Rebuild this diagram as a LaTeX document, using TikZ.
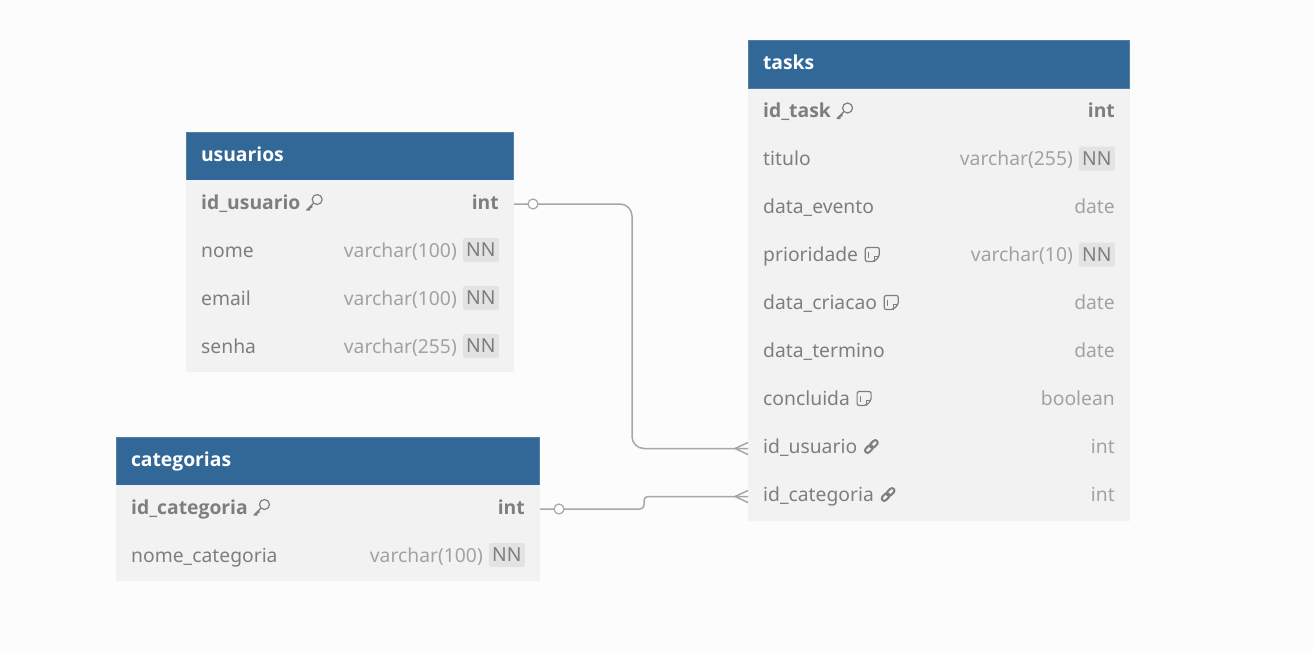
\documentclass[tikz,border=0pt]{standalone}
\usepackage{fontspec}
\setmainfont{Noto Sans}
\newfontfamily\boldfam{Open Sans}
\usepackage{tikz}
\usetikzlibrary{calc, positioning}

\definecolor{pagebg}{HTML}{FCFCFC}
\definecolor{headblue}{HTML}{316897}
\definecolor{rowgray}{HTML}{F2F2F2}
\definecolor{flaggray}{HTML}{E3E3E3}
\definecolor{namegray}{HTML}{7E7E7E}
\definecolor{typegray}{HTML}{A2A2A2}
\definecolor{linegray}{HTML}{A6A6AC}

\tikzset{
    tablehead/.style={anchor=north west, fill=headblue, draw=headblue!85!white, line width=0.6pt,
        text=white, font=\fontsize{19.3}{22}\selectfont\boldfam\bfseries, minimum height=48pt,
        text height=16pt, text depth=6pt,
        inner xsep=15pt, inner ysep=0pt, outer sep=0pt, align=left},
    tablerow/.style={anchor=north west, fill=rowgray, minimum height=48pt, inner sep=0pt, outer sep=0pt},
    rowname/.style={anchor=base west, text=namegray, inner sep=0pt, font=\fontsize{19.3}{22}\selectfont},
    rowtype/.style={anchor=base east, text=typegray, inner sep=0pt, font=\fontsize{19.3}{22}\selectfont},
    rowflag/.style={fill=flaggray, text=namegray, rounded corners=1.5pt, minimum width=36pt, minimum height=24pt,
        inner sep=0pt, anchor=east, font=\fontsize{19.3}{22}\selectfont},
    name pkey/.style={font=\fontsize{19.3}{22}\selectfont\boldfam\bfseries},
    type pkey/.style={font=\fontsize{19.3}{22}\selectfont\boldfam\bfseries, text=namegray},
    name note/.style={}, type note/.style={},
    name fkey/.style={}, type fkey/.style={},
    name plain/.style={}, type plain/.style={},
    icon/.style={draw=namegray, line width=1.2pt, line join=round},
    relline/.style={draw=linegray, line width=1.5pt},
    reldot/.style={circle, draw=linegray, fill=pagebg, line width=1.2pt, minimum size=10pt, inner sep=0pt},
    icon plain/.pic={},
    icon pkey/.pic={
        \draw[icon] (2.5,-2.5) circle (5);
        \draw[icon] (-1,1) -- (-8,8) -- (-5,8) -- (-5,5.5) -- (-3,5.5) -- (-3,3.5);
    },
    icon note/.pic={
        \draw[icon, rounded corners=2pt] (-7,-7) -- (7,-7) -- (7,2) -- (2,7) -- (-7,7) -- cycle;
        \draw[icon] (7,2) -- (2,2) -- (2,7);
        \draw[icon] (-4,-3) -- (-4,3);
    },
    icon fkey/.pic={
        \draw[icon, line width=2pt, rotate=45, rounded corners=2.5pt] (-8,-2.5) rectangle (1,2.5);
        \draw[icon, line width=2pt, rotate=45, rounded corners=2.5pt] (-1,-2.5) rectangle (8,2.5);
    },
    crowfoot/.pic={
        \draw[relline] (-13,0) -- (0,-6) (-13,0) -- (0,6);
    },
}

\def\flagnn{NN}
% name, left, top, width, rows as name/type/flag/kind
\newcommand{\erdtable}[5]{
    \node[tablehead, text width={(#4-30.6)*1pt}] (#1) at (#2,#3) {#1};
    \foreach \n/\t/\f/\k [count=\i] in {#5} {
        \node[tablerow, minimum width=#4 pt] (#1-\i) at (#2,{#3+48*\i}) {};
        \node[rowname, name \k] (#1-\i-name) at ($(#1-\i.west)+(15,5)$) {\n};
        \pic[shift={(14,-7)}] at (#1-\i-name.base east) {icon \k};
        \edef\flagval{\f}
        \ifx\flagval\flagnn
            \node[rowflag] (#1-\i-flag) at ($(#1-\i.east)+(-15,-2)$) {NN};
            \node[rowtype, type \k] (#1-\i-type) at ($(#1-\i.east)+(-57,5)$) {\t};
        \else
            \node[rowtype, type \k] (#1-\i-type) at ($(#1-\i.east)+(-15,5)$) {\t};
        \fi
    }
}

\begin{document}
\begin{tikzpicture}[x=1pt, y=-1pt]
    \fill[pagebg] (0,0) rectangle (1313,651);
    \useasboundingbox (0,0) rectangle (1313,651);

    \erdtable{usuarios}{186}{132}{328}{
        id\_usuario/int/-/pkey,
        nome/varchar(100)/NN/plain,
        email/varchar(100)/NN/plain,
        senha/varchar(255)/NN/plain}
    \erdtable{categorias}{116}{437}{424}{
        id\_categoria/int/-/pkey,
        nome\_categoria/varchar(100)/NN/plain}
    \erdtable{tasks}{748}{40.5}{382}{
        id\_task/int/-/pkey,
        titulo/varchar(255)/NN/plain,
        data\_evento/date/-/plain,
        prioridade/varchar(10)/NN/note,
        data\_criacao/date/-/note,
        data\_termino/date/-/plain,
        concluida/boolean/-/note,
        id\_usuario/int/-/fkey,
        id\_categoria/int/-/fkey}

    \coordinate (bendUser) at (632,204);
    \coordinate (bendCatA) at (644,509);
    \coordinate (bendCatB) at (644,496.5);

    \draw[relline, rounded corners=12pt] (usuarios-1.east) -- (bendUser) |- (tasks-8.west);
    \draw[relline, rounded corners=4pt] (categorias-1.east) -- (bendCatA) -- (bendCatB) -- (tasks-9.west);
    \node[reldot] (dotUser) at ($(usuarios-1.east)+(19,0)$) {};
    \node[reldot] (dotCat) at ($(categorias-1.east)+(19,0)$) {};
    \pic at (tasks-8.west) {crowfoot};
    \pic at (tasks-9.west) {crowfoot};
\end{tikzpicture}
\end{document}
